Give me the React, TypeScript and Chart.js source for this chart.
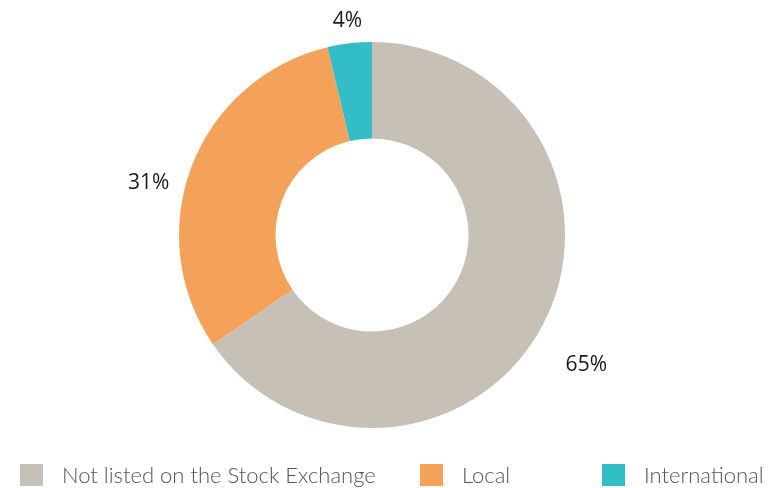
import React, { useEffect, useRef } from "react";
import { Chart, registerables } from "chart.js";

Chart.register(...registerables);

const categories = ["Not listed on the Stock Exchange", "Local", "International"];
const values = [65.4, 30.9, 3.7];
const percentLabels = ["65%", "31%", "4%"];
const colors = ["#C6C0B6", "#F4A25A", "#33BDC6"];

const labelPlugin = {
  id: "outerLabels",
  afterDatasetsDraw(chart: any, _args: any, opts: any) {
    const ctx = chart.ctx;
    const meta = chart.getDatasetMeta(0);
    ctx.save();
    ctx.font = "21px 'Open Sans'";
    ctx.fillStyle = "#1a1a1a";
    ctx.textAlign = "center";
    ctx.textBaseline = "middle";
    meta.data.forEach((arc: any, i: number) => {
      const p = arc.getProps(["x", "y", "startAngle", "endAngle", "outerRadius"], true);
      const mid = (p.startAngle + p.endAngle) / 2;
      const d = p.outerRadius * opts.distance;
      const n = opts.nudge[i] || [0, 0];
      ctx.fillText(percentLabels[i], p.x + Math.cos(mid) * d + n[0], p.y + Math.sin(mid) * d + n[1]);
    });
    ctx.restore();
  },
};

const legendPlugin = {
  id: "customLegend",
  afterDraw(chart: any, _args: any, opts: any) {
    const ctx = chart.ctx;
    ctx.save();
    ctx.font = "300 22px Lato";
    ctx.textBaseline = "middle";
    ctx.textAlign = "left";
    categories.forEach((c, i) => {
      const x = opts.xs[i];
      ctx.fillStyle = colors[i];
      ctx.fillRect(x, opts.y - 11, 23, 22);
      ctx.fillStyle = "#555555";
      ctx.fillText(c, x + 42, opts.y + 1);
    });
    ctx.restore();
  },
};

export default function App() {
  const ref = useRef<HTMLCanvasElement>(null);
  useEffect(() => {
    const chart = new Chart(ref.current!, {
      type: "doughnut",
      data: {
        labels: categories,
        datasets: [
          {
            data: values,
            backgroundColor: colors,
            borderWidth: 0,
            hoverOffset: 0,
            offset: 0,
          },
        ],
      },
      options: {
        responsive: false,
        animation: false,
        cutout: "50%",
        layout: { padding: { top: 42, bottom: 60, left: 0, right: 27 } },
        plugins: {
          legend: { display: false },
          tooltip: { enabled: false },
          outerLabels: { distance: 1.19, nudge: [[11, 23], [-9, 31], [2, 14]] },
          customLegend: { xs: [20, 420, 602], y: 475 },
        } as any,
      },
      plugins: [labelPlugin, legendPlugin],
    });
    return () => chart.destroy();
  }, []);
  return (
    <div style={{ position: "fixed", left: 0, top: 0, width: 771, height: 488, background: "#fff" }}>
      <canvas ref={ref} width={771} height={488} style={{ display: "block" }} />
    </div>
  );
}
